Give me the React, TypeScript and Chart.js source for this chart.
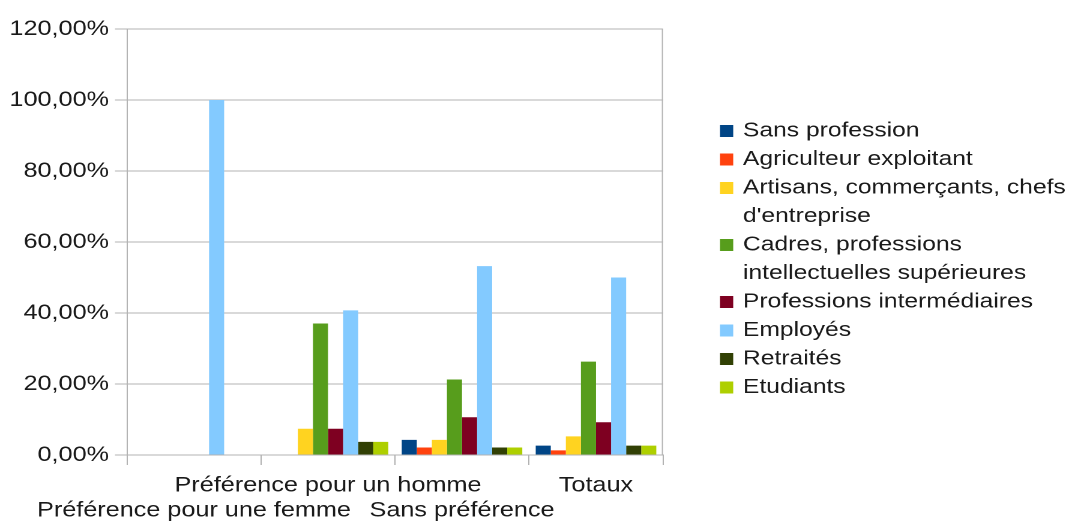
import React, { useEffect, useRef } from "react";
import { Chart, registerables } from "chart.js";

Chart.register(...registerables);

// ---- data ----
const categories = [
  "Préférence pour une femme",
  "Préférence pour un homme",
  "Sans préférence",
  "Totaux",
];

const seriesNames = [
  "Sans profession",
  "Agriculteur exploitant",
  "Artisans, commerçants, chefs d'entreprise",
  "Cadres, professions intellectuelles supérieures",
  "Professions intermédiaires",
  "Employés",
  "Retraités",
  "Etudiants",
];

const seriesColors = [
  "#004586",
  "#ff420e",
  "#ffd320",
  "#579d1c",
  "#7e0021",
  "#83caff",
  "#314004",
  "#aecf00",
];

const sansProfession = [0, 0, 4.26, 2.63];
const agriculteur = [0, 0, 2.13, 1.32];
const artisans = [0, 7.41, 4.26, 5.26];
const cadres = [0, 37.04, 21.28, 26.32];
const professionsInter = [0, 7.41, 10.64, 9.21];
const employes = [100, 40.74, 53.19, 50.0];
const retraites = [0, 3.7, 2.13, 2.63];
const etudiants = [0, 3.7, 2.13, 2.63];

const seriesValues = [
  sansProfession,
  agriculteur,
  artisans,
  cadres,
  professionsInter,
  employes,
  retraites,
  etudiants,
];

const yMin = 0;
const yMax = 120;
const yStep = 20;

// ---- layout (logical units; the whole canvas is stretched horizontally) ----
const FULL_W = 1078;
const FULL_H = 522;
const W = 898;
const SX = FULL_W / W;
const FONT = '"Liberation Sans", Arial, Helvetica, sans-serif';
const TEXT = "#1a1a1a";
const GRID = "#b3b3b3";

const LEG_BOX_X = 720 / SX;
const LEG_TEXT_X = 743 / SX;
const LEG_Y0 = 131;
const LEG_STEP = 28.5;
const LEG_FONT = 20.5;
const LEG_MAXW = 285;

function wrap(ctx: CanvasRenderingContext2D, text: string, maxW: number): string[] {
  const words = text.split(" ");
  const lines: string[] = [];
  let cur = "";
  for (const w of words) {
    const test = cur ? cur + " " + w : w;
    if (cur && ctx.measureText(test).width > maxW) {
      lines.push(cur);
      cur = w;
    } else {
      cur = test;
    }
  }
  if (cur) lines.push(cur);
  return lines;
}

const sideLegend = {
  id: "sideLegend",
  afterDraw(chart: any) {
    const ctx: CanvasRenderingContext2D = chart.ctx;
    const area = chart.chartArea;
    ctx.save();
    // right border of plot area
    ctx.strokeStyle = GRID;
    ctx.lineWidth = 1;
    ctx.beginPath();
    ctx.moveTo(area.right - 0.5, area.top);
    ctx.lineTo(area.right - 0.5, area.bottom);
    ctx.stroke();

    ctx.font = `${LEG_FONT}px ${FONT}`;
    ctx.textBaseline = "middle";
    ctx.textAlign = "left";
    let line = 0;
    chart.data.datasets.forEach((ds: any) => {
      const lines = wrap(ctx, ds.label, LEG_MAXW);
      const yc = LEG_Y0 + line * LEG_STEP;
      ctx.fillStyle = ds.backgroundColor;
      ctx.fillRect(LEG_BOX_X, yc - 6, 11, 12);
      ctx.fillStyle = TEXT;
      lines.forEach((t, i) => {
        ctx.fillText(t, LEG_TEXT_X, LEG_Y0 + (line + i) * LEG_STEP);
      });
      line += lines.length;
    });
    ctx.restore();
  },
};

export default function App() {
  const canvasRef = useRef<HTMLCanvasElement | null>(null);

  useEffect(() => {
    const canvas = canvasRef.current;
    if (!canvas) return;
    const chart = new Chart(canvas, {
      type: "bar",
      data: {
        labels: categories,
        datasets: seriesNames.map((name, i) => ({
          label: name,
          data: seriesValues[i],
          backgroundColor: seriesColors[i],
          borderWidth: 0,
          categoryPercentage: 0.9,
          barPercentage: 1.0,
        })),
      },
      options: {
        animation: false,
        responsive: false,
        devicePixelRatio: 2,
        layout: { padding: { left: 0, right: W - 663 / SX, top: 29, bottom: 0 } },
        plugins: {
          legend: { display: false },
          tooltip: { enabled: false },
          title: { display: false },
        },
        scales: {
          x: {
            grid: {
              offset: true,
              drawOnChartArea: false,
              drawTicks: true,
              tickLength: 10,
              color: GRID,
            },
            border: { display: true, color: GRID },
            ticks: {
              autoSkip: false,
              maxRotation: 0,
              minRotation: 0,
              padding: 8,
              color: TEXT,
              font: { family: FONT, size: 21, lineHeight: 1.2 },
              callback: (_v: any, idx: number) =>
                idx % 2 === 0 ? ["", categories[idx]] : categories[idx],
            },
            afterFit: (scale: any) => {
              scale.height = FULL_H - 455;
            },
          },
          y: {
            min: yMin,
            max: yMax,
            grid: {
              color: GRID,
              drawTicks: true,
              tickLength: 10,
            },
            border: { display: true, color: GRID },
            ticks: {
              stepSize: yStep,
              padding: 5,
              color: TEXT,
              font: { family: FONT, size: 21 },
              callback: (v: any) => Number(v).toFixed(2).replace(".", ",") + "%",
            },
            afterFit: (scale: any) => {
              scale.width = 127 / SX;
            },
          },
        },
      },
      plugins: [sideLegend],
    });
    return () => chart.destroy();
  }, []);

  return (
    <div
      style={{
        position: "absolute",
        left: 0,
        top: 0,
        width: FULL_W,
        height: FULL_H,
        overflow: "hidden",
        background: "#ffffff",
      }}
    >
      <div
        style={{
          width: W,
          height: FULL_H,
          transform: `scaleX(${SX})`,
          transformOrigin: "0 0",
        }}
      >
        <canvas ref={canvasRef} width={W} height={FULL_H} />
      </div>
    </div>
  );
}
